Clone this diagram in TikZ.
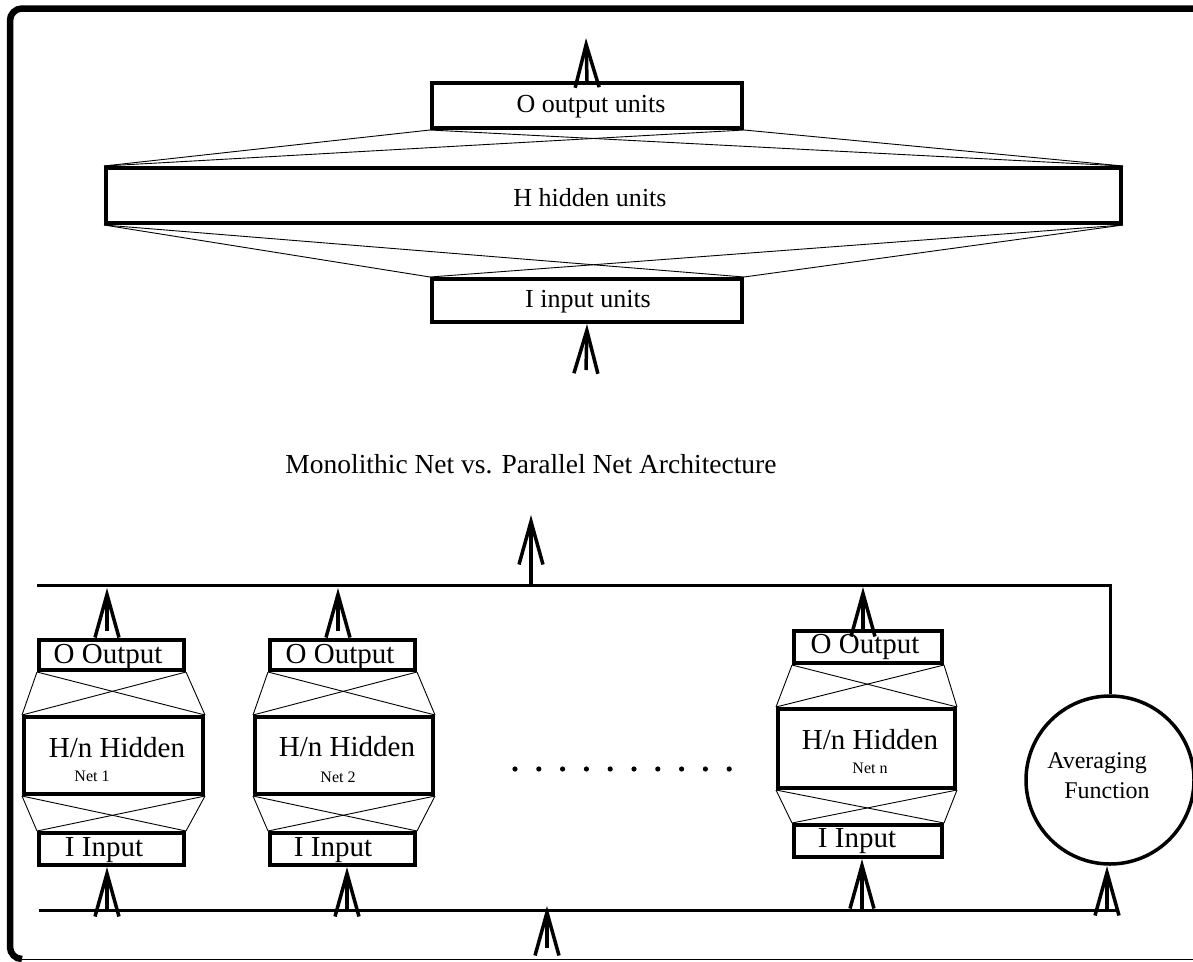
\documentclass[tikz,border=0pt]{standalone}
\usepackage{fontspec}
\setmainfont{Liberation Serif}
\usetikzlibrary{arrows.meta}
\begin{document}
\begin{tikzpicture}[x=1pt,y=-1pt,
  box/.style={draw, line width=4pt, inner sep=0pt},
  web/.style={line width=0.9pt},
  bus/.style={line width=3pt},
  arr/.style={line width=3.5pt, -{Straight Barb[length=43pt,width=24pt]}},
  lbl/.style={inner sep=0pt, font=\fontsize{26}{30}\selectfont},
  ttl/.style={inner sep=0pt, font=\fontsize{27.5}{32}\selectfont},
  avlbl/.style={inner sep=0pt, font=\fontsize{24}{28}\selectfont},
  netlbl/.style={inner sep=0pt, font=\fontsize{29}{33}\selectfont},
  tag/.style={inner sep=0pt, font=\fontsize{16}{18}\selectfont}]
\useasboundingbox (0,0) rectangle (1193,961);

% outer frame
\draw[line width=6.5pt, rounded corners=12pt] (1193,8.5) -- (10,8.5) -- (10,959) -- (22,959);
\draw[line width=1.5pt] (22,959.5) -- (1193,959.5);

% ---------------- monolithic net ----------------
\node[box, minimum width=310, minimum height=45] (out) at (587,105.5) {};
\node[box, minimum width=1015, minimum height=55] (hid) at (613.5,195.5) {};
\node[box, minimum width=310, minimum height=43] (inp) at (587,300.5) {};
\node[lbl] at (591,107) {O output units};
\node[lbl] at (590,198) {H hidden units};
\node[lbl] at (588,302) {I input units};

\foreach \a in {south west, south east}
  \foreach \b in {north west, north east}
    \draw[web] (out.\a) -- (hid.\b);
\foreach \a in {south west, south east}
  \foreach \b in {north west, north east}
    \draw[web] (hid.\a) -- (inp.\b);

\coordinate (outtop) at (586,38);
\coordinate (inbot) at (586,370);
\draw[arr] (out.north) -- (outtop);
\draw[arr] (inbot) -- (inp.south);

\node[ttl] (title) at (531,464) {Monolithic Net vs. Parallel Net Architecture};

% ---------------- parallel nets ----------------
% net 1
\node[box, minimum width=145, minimum height=30] (o1) at (111.5,655) {};
\node[box, minimum width=179, minimum height=77] (h1) at (113.5,755.5) {};
\node[box, minimum width=145, minimum height=32] (i1) at (111.5,849) {};
\node[netlbl] at (108,657) {O Output};
\node[netlbl] at (117,748) {H/n Hidden};
\node[tag] at (92,776) {Net 1};
\node[netlbl] at (104,850) {I Input};

% net 2
\node[box, minimum width=145, minimum height=30] (o2) at (342.5,655) {};
\node[box, minimum width=178, minimum height=77] (h2) at (344,755.5) {};
\node[box, minimum width=145, minimum height=32] (i2) at (342.5,849) {};
\node[netlbl] at (340,657) {O Output};
\node[netlbl] at (347,747) {H/n Hidden};
\node[tag] at (338,777) {Net 2};
\node[netlbl] at (333,850) {I Input};

% net n
\node[box, minimum width=148, minimum height=32] (on) at (868,647) {};
\node[box, minimum width=177, minimum height=79] (hn) at (866.5,748.5) {};
\node[box, minimum width=148, minimum height=32] (in) at (868,841) {};
\node[netlbl] at (865,647) {O Output};
\node[netlbl] at (870,740) {H/n Hidden};
\node[tag] at (870,768) {Net n};
\node[netlbl] at (857,841) {I Input};

\foreach \n in {1,2,n}{
  \foreach \a in {south west, south east}
    \foreach \b in {north west, north east}{
      \draw[web] (o\n.\a) -- (h\n.\b);
      \draw[web] (h\n.\a) -- (i\n.\b);
    }
}

% elided nets
\foreach \k in {0,...,9}
  \fill (515+23.8*\k,769) circle (2.6);

% averaging unit
\node[draw, circle, line width=3.5pt, minimum size=168, inner sep=0pt] (avg) at (1110,780) {};
\node[avlbl] at (1097,763) {Averaging};
\node[avlbl] at (1107,791) {Function};

% output bus
\coordinate (busL) at (37,585.5);
\coordinate (busR) at (1110,585.5);
\draw[bus] (busL) -- (busR) -- (avg.north);
\coordinate (busmid) at (531,585.5);
\coordinate (bustop) at (531,515);
\draw[arr] (busmid) -- (bustop);

\coordinate (t1) at (107,588);
\coordinate (t2) at (338,588);
\coordinate (tn) at (863,587);
\draw[arr] (107,631) -- (t1);
\draw[arr] (338,631) -- (t2);
\draw[arr] (on.north -| tn) -- (tn);

% input bus
\coordinate (bbL) at (39,910);
\coordinate (bbR) at (1118,910);
\draw[bus] (bbL) -- (bbR);
\coordinate (feed) at (547,948);
\coordinate (feedtip) at (547,906);
\draw[arr] (feed) -- (feedtip);

\coordinate (f1) at (107,910);
\coordinate (f2) at (347,910);
\coordinate (fn) at (862,910);
\coordinate (fa) at (1107,910);
\draw[arr] (f1) -- (f1 |- i1.south);
\draw[arr] (f2) -- (f2 |- i2.south);
\draw[arr] (fn) -- (fn |- in.south);
\draw[arr] (fa) -- (1107,866);
\end{tikzpicture}
\end{document}
